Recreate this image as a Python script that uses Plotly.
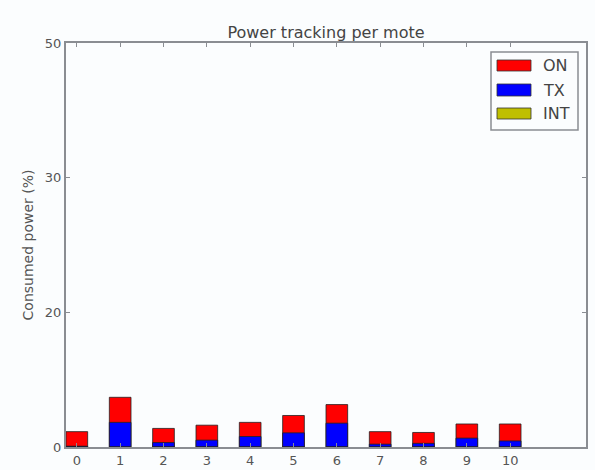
import plotly.graph_objects as go

motes = list(range(11))
mote_labels = [str(m) for m in motes]
on_total = [1.9, 6.15, 2.3, 2.7, 3.05, 3.9, 5.25, 1.9, 1.8, 2.85, 2.85]
tx = [0.1, 3.05, 0.55, 0.85, 1.3, 1.75, 2.95, 0.35, 0.45, 1.1, 0.75]
intr = [0.0] * 11

y_tick_vals = [0, 50 / 3, 100 / 3, 50]
y_tick_labels = ["0", "20", "30", "50"]

legend_names = ["ON", "TX", "INT"]
colors = ["#ff0000", "#0000ff", "#bfbf00"]

W, H = 595, 470
L, R, T, B = 66, 586, 43, 447

fig = go.Figure()
for name, vals, col in zip(legend_names, [on_total, tx, intr], colors):
    fig.add_trace(go.Bar(x=motes, y=vals, name=name, width=0.5,
                         marker=dict(color=col, line=dict(color="#222222", width=0.8)),
                         showlegend=False))

axis_col = "#8a8d92"
font_col = "#555555"
fig.update_layout(
    width=W, height=H, autosize=False,
    margin=dict(l=L, r=W - R, t=T, b=H - B, pad=0, autoexpand=False),
    barmode="overlay",
    paper_bgcolor="#fbfdfe", plot_bgcolor="#fbfdfe",
    font=dict(family="DejaVu Sans", color=font_col, size=13),
    title=dict(text="Power tracking per mote", x=(L + R) / 2 / W, xanchor="center",
               y=1 - 32 / H, yanchor="middle", font=dict(size=16, color="#444444")),
    xaxis=dict(range=[-0.25, 11.75], tickvals=motes, ticktext=mote_labels,
               ticks="inside", ticklen=4, tickcolor=axis_col, mirror="allticks",
               showline=True, linecolor=axis_col, linewidth=2, showgrid=False,
               zeroline=False, automargin=False, tickfont=dict(size=13, color=font_col)),
    yaxis=dict(range=[0, 50], tickvals=y_tick_vals, ticktext=y_tick_labels,
               ticks="inside", ticklen=4, tickcolor=axis_col, mirror="allticks",
               showline=True, linecolor=axis_col, linewidth=2, showgrid=False,
               zeroline=False, automargin=False, tickfont=dict(size=13, color=font_col),
               title=dict(text="Consumed power (%)", standoff=8,
                          font=dict(size=14, color=font_col))),
)


def px_x(p):
    return (p - L) / (R - L)


def px_y(p):
    return (B - p) / (B - T)


# custom legend (wide swatches as in the reference)
fig.add_shape(type="rect", xref="paper", yref="paper",
              x0=px_x(491), x1=px_x(578), y0=px_y(130), y1=px_y(52),
              line=dict(color=axis_col, width=1.5), fillcolor="#fbfdfe")
rows = [(60, 71), (84, 96), (108, 119)]
for (y0, y1), name, col in zip(rows, legend_names, colors):
    fig.add_shape(type="rect", xref="paper", yref="paper",
                  x0=px_x(497), x1=px_x(531), y0=px_y(y1), y1=px_y(y0),
                  line=dict(color="#333333", width=0.8), fillcolor=col)
    fig.add_annotation(xref="paper", yref="paper", x=px_x(541), y=px_y((y0 + y1) / 2),
                       text=name, showarrow=False, xanchor="left", yanchor="middle",
                       font=dict(size=16, color="#444444"))

fig.write_html(
    "out.html",
    config={"displayModeBar": False},
    post_script="document.body.style.margin='0';document.body.style.overflow='hidden';",
)
